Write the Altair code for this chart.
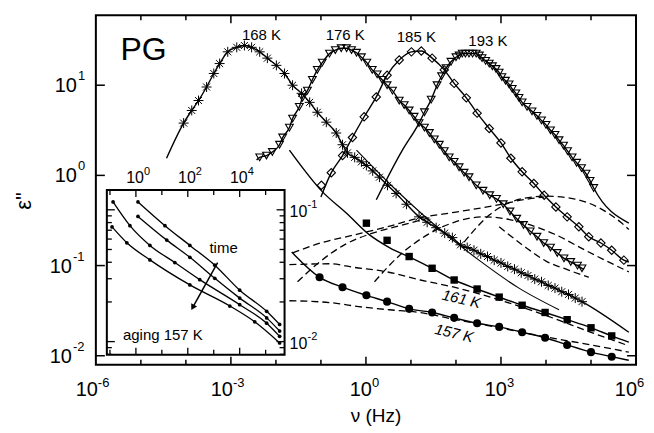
import altair as alt
import pandas as pd

# ---------------- main panel (log10 nu [Hz], log10 eps'') ----------------
f168 = [-4.05, -3.87, -3.72, -3.54, -3.38, -3.25, -3.07, -2.87, -2.70, -2.54, -2.36, -2.19, -1.99, -1.81, -1.63,
        -1.43, -1.25, -1.08, -0.88, -0.66, -0.52, -0.41, -0.25, -0.10, 0.01, 0.15, 0.30, 0.48, 0.67, 0.90,
        1.18, 1.36, 1.56, 1.75, 1.92, 2.10, 2.25, 2.40, 2.55, 2.70, 2.85, 3.00, 3.15, 3.30, 3.45,
        3.60, 3.75, 3.90, 4.05, 4.20, 4.35, 4.50, 4.65, 4.80]
e168 = [0.58, 0.72, 0.83, 0.98, 1.13, 1.24, 1.37, 1.42, 1.44, 1.42, 1.37, 1.30, 1.22, 1.13, 1.00,
        0.91, 0.81, 0.70, 0.59, 0.47, 0.34, 0.25, 0.20, 0.15, 0.11, 0.05, -0.02, -0.11, -0.20, -0.32,
        -0.46, -0.52, -0.58, -0.64, -0.69, -0.77, -0.80, -0.83, -0.87, -0.90, -0.94, -0.97, -1.01, -1.04, -1.08,
        -1.11, -1.15, -1.18, -1.22, -1.25, -1.29, -1.32, -1.36, -1.40]
fit168_lo = [(-4.43, 0.19)]
fit168_hi = [(5.84, -1.74)]

f176 = [-2.36, -2.21, -2.08, -1.92, -1.85, -1.70, -1.63, -1.48, -1.41, -1.30, -1.19, -1.08, -0.97, -0.81, -0.68,
        -0.55, -0.43, -0.32, -0.21, -0.10, 0.02, 0.14, 0.25, 0.36, 0.47, 0.59, 0.74, 0.85, 0.96, 1.07,
        1.18, 1.30, 1.41, 1.52, 1.63, 1.74, 1.85, 1.96, 2.07, 2.18, 2.29, 2.45, 2.60, 2.75, 2.90,
        3.05, 3.20, 3.35, 3.50, 3.65, 3.80, 3.95, 4.10, 4.25, 4.40, 4.55, 4.70, 4.80]
e176 = [0.20, 0.22, 0.26, 0.34, 0.42, 0.53, 0.63, 0.76, 0.86, 0.94, 1.06, 1.17, 1.25, 1.35, 1.39,
        1.41, 1.41, 1.39, 1.36, 1.31, 1.25, 1.17, 1.12, 1.06, 1.00, 0.94, 0.83, 0.78, 0.72, 0.65,
        0.58, 0.53, 0.47, 0.40, 0.34, 0.27, 0.20, 0.15, 0.09, 0.03, -0.02, -0.11, -0.17, -0.22, -0.26,
        -0.32, -0.40, -0.48, -0.55, -0.62, -0.68, -0.75, -0.80, -0.86, -0.92, -0.96, -1.00, -1.03]
fit176_lo = [(-2.43, 0.17)]
fit176_hi = [(4.85, -1.04)]

f185 = [-0.99, -0.77, -0.52, -0.30, -0.04, 0.23, 0.47, 0.74, 1.01, 1.23, 1.47, 1.74, 1.96, 2.23,
        2.47, 2.74, 3.00, 3.22, 3.47, 3.73, 3.96, 4.22, 4.47, 4.73, 4.95, 5.22, 5.46, 5.73]
e185 = [-0.11, 0.03, 0.22, 0.42, 0.65, 0.87, 1.11, 1.28, 1.37, 1.38, 1.30, 1.17, 1.02, 0.86,
        0.69, 0.52, 0.36, 0.19, 0.04, -0.09, -0.22, -0.35, -0.46, -0.57, -0.68, -0.75, -0.83, -0.94]
fit185_lo = [(-1.00, -0.24)]
fit185_hi = [(5.84, -0.96)]

f193 = [1.30, 1.45, 1.58, 1.68, 1.78, 1.89, 2.00, 2.07, 2.14, 2.21, 2.29, 2.37, 2.45, 2.52, 2.58,
        2.66, 2.74, 2.81, 2.89, 2.96, 3.02, 3.10, 3.18, 3.25, 3.33, 3.40, 3.47, 3.58, 3.69, 3.80,
        3.90, 4.00, 4.10, 4.20, 4.29, 4.39, 4.48, 4.58, 4.68, 4.79, 4.89, 4.98, 5.06]
e193 = [0.70, 0.84, 1.00, 1.10, 1.19, 1.26, 1.31, 1.33, 1.35, 1.35, 1.35, 1.35, 1.35, 1.33, 1.30,
        1.27, 1.24, 1.21, 1.18, 1.14, 1.09, 1.05, 1.01, 0.96, 0.91, 0.86, 0.81, 0.76, 0.71, 0.66,
        0.61, 0.56, 0.50, 0.45, 0.39, 0.33, 0.27, 0.20, 0.14, 0.08, 0.02, -0.06, -0.14]
fit193_lo = [(0.23, -0.27), (0.81, 0.28), (1.18, 0.58)]
fit193_hi = [(5.84, -0.53)]

f161 = [0.01, 0.47, 0.96, 1.47, 1.96, 2.47, 2.96, 3.47, 3.98, 4.47, 5.00, 5.46]
e161 = [-0.53, -0.72, -0.90, -1.03, -1.16, -1.26, -1.35, -1.44, -1.52, -1.60, -1.69, -1.78]
fit161_f = [-1.70, -0.97, -0.43, 0.08, 0.52, 1.03, 1.47, 1.96, 2.47, 2.96, 3.47, 3.98, 4.47, 5.00, 5.46, 5.84]
fit161_e = [0.28, -0.18, -0.42, -0.66, -0.80, -0.92, -1.03, -1.16, -1.26, -1.35, -1.44, -1.52, -1.60, -1.69, -1.78, -1.85]

f157 = [-1.03, -0.52, 0.01, 0.47, 0.96, 1.47, 1.96, 2.47, 2.96, 3.47, 3.98, 4.47, 5.00, 5.46]
e157 = [-1.13, -1.24, -1.33, -1.40, -1.48, -1.52, -1.58, -1.64, -1.68, -1.74, -1.80, -1.88, -1.96, -2.01]
fit157_lo = [(-1.65, -0.85)]
fit157_hi = [(5.84, -2.05)]

# thin solid component under the 168 K wing
a168_f = [-0.21, 0.52, 1.41, 2.51, 3.40, 4.29]
a168_e = [0.28, -0.09, -0.50, -0.94, -1.25, -1.49]

# dashed component curves
dash_curves = {
    "d157": ([-1.70, -0.81, -0.08, 0.52, 1.18, 2.00, 2.96, 3.98, 5.00, 5.84],
             [-1.39, -1.41, -1.46, -1.49, -1.52, -1.60, -1.69, -1.79, -1.88, -1.96]),
    "d161": ([-1.70, -0.81, -0.26, 0.47, 1.21, 1.96, 2.96, 3.98, 5.00, 5.84],
             [-0.99, -0.98, -1.02, -1.07, -1.16, -1.24, -1.38, -1.55, -1.74, -1.89]),
    "r1": ([-1.63, -1.01, -0.26, 0.47, 1.21, 1.96, 2.91, 3.62, 3.96],
           [-0.86, -0.75, -0.66, -0.57, -0.47, -0.41, -0.33, -0.26, -0.24]),
    "s1": ([-1.52, -1.03, -0.48, 0.03, 0.74, 1.41],
           [-1.18, -0.96, -0.77, -0.66, -0.56, -0.47]),
    "s2": ([0.19, 0.74, 1.36, 1.96, 2.63, 3.45, 4.18, 4.91, 5.84],
           [-1.18, -0.89, -0.66, -0.52, -0.46, -0.52, -0.65, -0.84, -1.07]),
    "h185": ([2.18, 2.74, 3.45, 4.00, 4.62, 5.18, 5.66, 5.84],
             [-0.74, -0.44, -0.26, -0.23, -0.26, -0.36, -0.52, -0.60]),
    "a176": ([2.96, 3.50, 4.00, 4.50, 4.95],
             [-0.57, -0.78, -0.95, -1.05, -1.13]),
}

x_dec = list(range(-5, 6))
x_lab = [-6, -3, 0, 3, 6]
y_dec = [-2, -1, 0, 1]

ann_text = ["168 K", "176 K", "185 K", "193 K"]
ann_f = [-2.32, -0.46, 1.12, 2.71]
ann_e = [1.56, 1.56, 1.53, 1.49]
rot_text = ["161 K", "157 K"]
rot_f = [2.12, 1.96]
rot_e = [-1.37, -1.75]
pg_pos = (-4.94, 1.39)

# ---------------- inset (aging at 157 K) ----------------
ins_curves = [
    ([0.08, 1.12, 2.08, 3.04, 4.00, 5.04, 5.54], [-0.94, -1.12, -1.27, -1.42, -1.61, -1.77, -1.87]),
    ([0.08, 1.19, 2.08, 3.04, 4.00, 5.04, 5.54], [-1.05, -1.23, -1.36, -1.52, -1.67, -1.82, -1.92]),
    ([-0.88, -0.23, 0.54, 1.50, 2.46, 4.00, 5.04, 5.54], [-0.94, -1.12, -1.27, -1.40, -1.53, -1.72, -1.86, -1.96]),
    ([-0.92, -0.35, 0.54, 2.08, 3.62, 4.58, 5.54], [-1.13, -1.25, -1.38, -1.57, -1.73, -1.85, -2.01]),
]
ins_xdom = (-1.12, 5.73)
ins_ydom = (-2.10, -0.85)
ins_xdec = list(range(-1, 6))
ins_xlab = [0, 2, 4]
ins_ymaj = [0.01, 0.1]
ins_ymin = [0.008, 0.009, 0.02, 0.03, 0.04, 0.05, 0.06, 0.07, 0.08, 0.09]
ins_ylab = [-1, -2]
arrow = [(3.15, -1.40), (2.19, -1.74)]
ins_text = [("time", 3.38, -1.29), ("aging 157 K", 1.04, -1.95)]

# ---------------- build ----------------
FONT = "Liberation Sans"
W, H = 541, 350
IX0, IX1, IY0, IY1 = 11, 189, 340, 175


def tbl(lx, ly):
    return pd.DataFrame({"f": [10.0 ** v for v in lx], "e": [10.0 ** v for v in ly]})


def pairs(p):
    return [a for a, b in p], [b for a, b in p]


xs = alt.Scale(type="log", domain=[1e-6, 1e6], nice=False)
ys = alt.Scale(type="log", domain=[10 ** -2.1, 10 ** 1.775], nice=False)
xi = alt.Scale(type="log", domain=[10 ** ins_xdom[0], 10 ** ins_xdom[1]], range=[IX0, IX1], nice=False)
yi = alt.Scale(type="log", domain=[10 ** ins_ydom[0], 10 ** ins_ydom[1]], range=[IY0, IY1], nice=False)


def XY(ch, sx=xs, sy=ys):
    return ch.encode(x=alt.X("f:Q", scale=sx, axis=None), y=alt.Y("e:Q", scale=sy, axis=None))


def line(lx, ly, dash=None, w=1.4, sx=xs, sy=ys):
    kw = dict(color="black", strokeWidth=w, interpolate="monotone")
    if dash:
        kw["strokeDash"] = dash
    return XY(alt.Chart(tbl(lx, ly)).mark_line(**kw), sx, sy)


def sym(lx, ly, shape, size, filled, sw=1.1):
    return XY(alt.Chart(tbl(lx, ly)).mark_point(shape=shape, size=size, filled=filled, color="black",
                                                 opacity=1, strokeWidth=sw))


AST = "M-1,0L1,0M0,-1L0,1M-0.7,-0.7L0.7,0.7M-0.7,0.7L0.7,-0.7"

main = []
for lo, fs, es, hi in [(fit168_lo, f168, e168, fit168_hi), (fit176_lo, f176, e176, fit176_hi),
                       (fit185_lo, f185[1:], e185[1:], fit185_hi), (fit193_lo, f193, e193, fit193_hi),
                       (fit157_lo, f157, e157, fit157_hi)]:
    a, b = pairs(lo)
    c, d = pairs(hi)
    main.append(line(a + fs + c, b + es + d))
main.append(line(fit161_f, fit161_e))
main.append(line(a168_f, a168_e, w=1.1))
for k, (lx, ly) in dash_curves.items():
    main.append(line(lx, ly, dash=[7, 4], w=1.3))
main.append(sym(f168, e168, AST, 100, False, 1.0))
main.append(sym(f176, e176, "triangle-down", 60, False))
main.append(sym(f185, e185, "diamond", 70, False))
main.append(sym(f193, e193, "triangle-down", 60, False))
main.append(sym(f161, e161, "square", 55, True))
main.append(sym(f157, e157, "circle", 65, True))

# inward ticks on the frame
xt = pd.DataFrame({"f": [10.0 ** d for d in x_dec], "L": [8 if d % 3 == 0 else 5 for d in x_dec]})
for L in (8, 5):
    dfx = xt[xt.L == L]
    main.append(alt.Chart(dfx).mark_rule(color="black", strokeWidth=1.5).encode(
        x=alt.X("f:Q", scale=xs, axis=None), y=alt.value(H), y2=alt.value(H - L)))
    main.append(alt.Chart(dfx).mark_rule(color="black", strokeWidth=1.5).encode(
        x=alt.X("f:Q", scale=xs, axis=None), y=alt.value(0), y2=alt.value(L)))
yt = pd.DataFrame({"e": [10.0 ** d for d in y_dec]})
main.append(alt.Chart(yt).mark_rule(color="black", strokeWidth=1.5).encode(
    y=alt.Y("e:Q", scale=ys, axis=None), x=alt.value(0), x2=alt.value(9)))
main.append(alt.Chart(yt).mark_rule(color="black", strokeWidth=1.5).encode(
    y=alt.Y("e:Q", scale=ys, axis=None), x=alt.value(W), x2=alt.value(W - 9)))

# tick labels (10 + superscript)
xl = pd.DataFrame({"f": [10.0 ** d for d in x_lab], "b": ["10"] * len(x_lab), "x": [str(d) for d in x_lab],
                   "grp": [0 if d < 0 else (2 if d == x_lab[-1] else 1) for d in x_lab]})
for grp, dx in [(0, 2), (1, 6), (2, 1)]:
    sub = xl[xl.grp == grp]
    main.append(alt.Chart(sub).mark_text(font=FONT, fontSize=20, align="right", baseline="alphabetic", dx=dx)
                .encode(x=alt.X("f:Q", scale=xs, axis=None), y=alt.value(381), text="b:N"))
    main.append(alt.Chart(sub).mark_text(font=FONT, fontSize=13, align="left", baseline="alphabetic", dx=dx)
                .encode(x=alt.X("f:Q", scale=xs, axis=None), y=alt.value(372), text="x:N"))
yl = pd.DataFrame({"e": [10.0 ** d for d in y_dec], "b": ["10"] * len(y_dec), "x": [str(d) for d in y_dec],
                   "neg": [d < 0 for d in y_dec]})
for neg, px in [(True, -24), (False, -19)]:
    sub = yl[yl.neg == neg]
    main.append(alt.Chart(sub).mark_text(font=FONT, fontSize=20, align="right", baseline="middle", dy=1)
                .encode(y=alt.Y("e:Q", scale=ys, axis=None), x=alt.value(px), text="b:N"))
    main.append(alt.Chart(sub).mark_text(font=FONT, fontSize=13, align="left", baseline="middle", dy=-9)
                .encode(y=alt.Y("e:Q", scale=ys, axis=None), x=alt.value(px + 1), text="x:N"))

# axis titles
main.append(alt.Chart(pd.DataFrame({"t": ["\u03bd (Hz)"]})).mark_text(font=FONT, fontSize=19, baseline="alphabetic")
            .encode(x=alt.value(W / 2 + 10), y=alt.value(407), text="t:N"))
main.append(alt.Chart(pd.DataFrame({"t": ['\u03b5"']})).mark_text(font=FONT, fontSize=22, angle=270)
            .encode(x=alt.value(-72), y=alt.value(186), text="t:N"))

# annotations
ann = tbl(ann_f, ann_e).assign(t=ann_text)
main.append(XY(alt.Chart(ann).mark_text(font=FONT, fontSize=15)).encode(text="t:N"))
rot = tbl(rot_f, rot_e).assign(t=rot_text)
main.append(XY(alt.Chart(rot).mark_text(font=FONT, fontSize=15, angle=13, fontStyle="italic")).encode(text="t:N"))
pg = tbl([pg_pos[0]], [pg_pos[1]]).assign(t=["PG"])
main.append(XY(alt.Chart(pg).mark_text(font=FONT, fontSize=32)).encode(text="t:N"))

main_layer = alt.layer(*main)

# ---------------- inset layers ----------------
ins = []
frame = pd.DataFrame({"f": [10 ** ins_xdom[0]], "f2": [10 ** ins_xdom[1]],
                      "e": [10 ** ins_ydom[0]], "e2": [10 ** ins_ydom[1]]})
ins.append(alt.Chart(frame).mark_rect(fill="white", stroke="black", strokeWidth=2).encode(
    x=alt.X("f:Q", scale=xi, axis=None), x2="f2:Q", y=alt.Y("e:Q", scale=yi, axis=None), y2="e2:Q"))
for lx, ly in ins_curves:
    ins.append(line(lx, ly, w=1.3, sx=xi, sy=yi))
    ins.append(XY(alt.Chart(tbl(lx, ly)).mark_circle(color="black", size=14, opacity=1), xi, yi))
ixt = pd.DataFrame({"f": [10.0 ** d for d in ins_xdec], "maj": [d % 2 == 0 for d in ins_xdec]})
for maj, L in [(True, 7), (False, 5)]:
    sub = ixt[ixt.maj == maj]
    ins.append(alt.Chart(sub).mark_rule(color="black", strokeWidth=1.3).encode(
        x=alt.X("f:Q", scale=xi, axis=None), y=alt.value(IY1), y2=alt.value(IY1 + L)))
    ins.append(alt.Chart(sub).mark_rule(color="black", strokeWidth=1.3).encode(
        x=alt.X("f:Q", scale=xi, axis=None), y=alt.value(IY0), y2=alt.value(IY0 - L)))
for vals, L in [(ins_ymaj, 8), (ins_ymin, 5)]:
    sub = pd.DataFrame({"e": vals})
    ins.append(alt.Chart(sub).mark_rule(color="black", strokeWidth=1.3).encode(
        y=alt.Y("e:Q", scale=yi, axis=None), x=alt.value(IX0), x2=alt.value(IX0 + L)))
    ins.append(alt.Chart(sub).mark_rule(color="black", strokeWidth=1.3).encode(
        y=alt.Y("e:Q", scale=yi, axis=None), x=alt.value(IX1), x2=alt.value(IX1 - L)))
ixl = pd.DataFrame({"f": [10.0 ** d for d in ins_xlab], "b": ["10"] * 3, "x": [str(d) for d in ins_xlab]})
ins.append(alt.Chart(ixl).mark_text(font=FONT, fontSize=16, align="right", baseline="alphabetic", dx=8)
           .encode(x=alt.X("f:Q", scale=xi, axis=None), y=alt.value(168), text="b:N"))
ins.append(alt.Chart(ixl).mark_text(font=FONT, fontSize=11, align="left", baseline="alphabetic", dx=8)
           .encode(x=alt.X("f:Q", scale=xi, axis=None), y=alt.value(160), text="x:N"))
iyl = pd.DataFrame({"e": [10.0 ** d for d in ins_ylab], "b": ["10"] * 2, "x": [str(d) for d in ins_ylab]})
ins.append(alt.Chart(iyl).mark_text(font=FONT, fontSize=16, align="left", baseline="middle", dy=2)
           .encode(y=alt.Y("e:Q", scale=yi, axis=None), x=alt.value(IX1 + 5), text="b:N"))
ins.append(alt.Chart(iyl).mark_text(font=FONT, fontSize=11, align="left", baseline="middle", dy=-5)
           .encode(y=alt.Y("e:Q", scale=yi, axis=None), x=alt.value(IX1 + 23), text="x:N"))
ar = pd.DataFrame({"f": [10 ** arrow[0][0]], "e": [10 ** arrow[0][1]],
                   "f2": [10 ** arrow[1][0]], "e2": [10 ** arrow[1][1]]})
ins.append(alt.Chart(ar).mark_rule(color="black", strokeWidth=1.5).encode(
    x=alt.X("f:Q", scale=xi, axis=None), y=alt.Y("e:Q", scale=yi, axis=None), x2="f2:Q", y2="e2:Q"))
ah = tbl([arrow[1][0]], [arrow[1][1]])
ins.append(XY(alt.Chart(ah).mark_point(shape="triangle-up", angle=209, size=45, filled=True,
                                        color="black", opacity=1), xi, yi))
it = tbl([t[1] for t in ins_text], [t[2] for t in ins_text]).assign(t=[t[0] for t in ins_text])
ins.append(XY(alt.Chart(it).mark_text(font=FONT, fontSize=15), xi, yi).encode(text="t:N"))

inset_layer = alt.layer(*ins)

chart = (alt.layer(main_layer, inset_layer)
         .resolve_scale(x="independent", y="independent")
         .properties(width=W, height=H, autosize="none",
                     padding={"left": 88, "top": 7, "right": 10, "bottom": 62},
                     background="white")
         .configure_view(stroke="black", strokeWidth=2))

chart.save("out.html", embed_options={"renderer": "svg", "actions": False})
